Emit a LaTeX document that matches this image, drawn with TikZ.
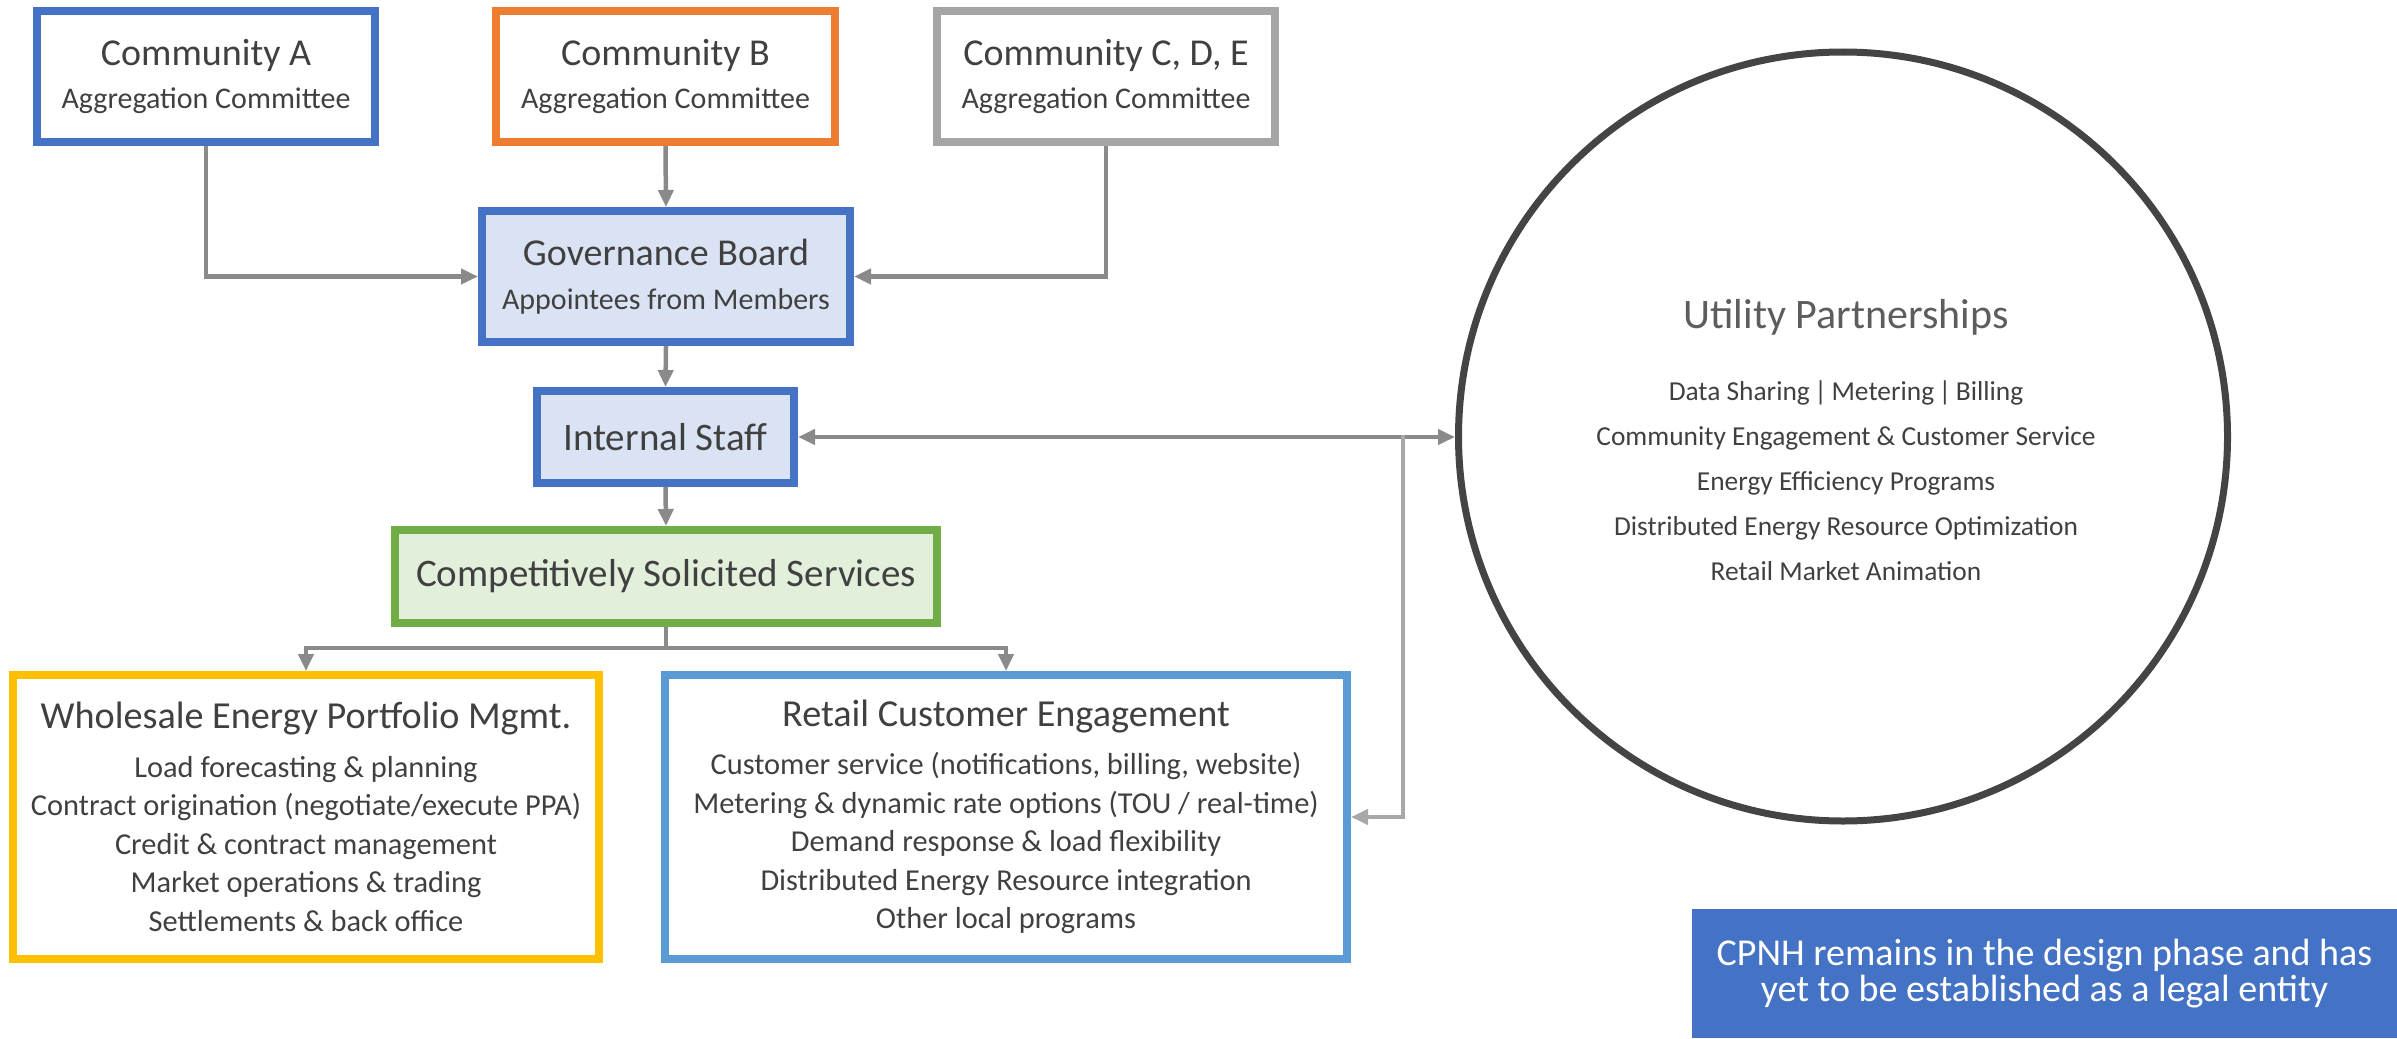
\documentclass[tikz,border=0pt]{standalone}
\usepackage{fontspec}
\setmainfont{Carlito}
\usetikzlibrary{arrows.meta,shapes.geometric}
\definecolor{txt}{HTML}{404040}
\definecolor{cblue}{HTML}{4472C4}
\definecolor{corange}{HTML}{ED7D31}
\definecolor{cgray}{HTML}{A5A5A5}
\definecolor{lblue}{HTML}{DAE3F3}
\definecolor{cgreen}{HTML}{70AD47}
\definecolor{lgreen}{HTML}{E2EFDA}
\definecolor{cyellow}{HTML}{FFC000}
\definecolor{cskyblue}{HTML}{5B9BD5}
\definecolor{conncol}{HTML}{8A8A8A}
\definecolor{conncolb}{HTML}{A8A8A8}
\definecolor{ringcol}{HTML}{444444}
\newcommand{\ttlA}[1]{{\fontsize{38}{44}\selectfont #1}}
\newcommand{\ttlB}[1]{{\fontsize{38.2}{44}\selectfont #1}}
\begin{document}
\begin{tikzpicture}[x=1pt,y=-1pt,
  box/.style={draw=#1, line width=8pt, rectangle, align=center, text=txt, inner sep=0pt},
  subf/.style={font=\fontsize{30}{34}\selectfont},
  listf/.style={font=\fontsize{30.4}{38.5}\selectfont},
  conn/.style={draw=conncol, line width=4.5pt, -{Triangle[length=17pt,width=15pt]}},
  connb/.style={draw=conncolb, line width=4pt, -{Triangle[length=17pt,width=15pt]}, shorten <=-2pt},
  plain/.style={draw=conncol, line width=4.5pt},
]
\useasboundingbox (0,0) rectangle (2397,1038);
% top boxes
\node[box=cblue, subf, minimum width=338pt, minimum height=131pt] (comA) at (206,76.5)
  {\ttlA{Community A}\\[9pt]Aggregation Committee};
\node[box=corange, subf, minimum width=339pt, minimum height=131pt] (comB) at (665.5,76.5)
  {\ttlA{Community B}\\[9pt]Aggregation Committee};
\node[box=cgray, subf, minimum width=338pt, minimum height=131pt] (comC) at (1106,76.5)
  {\ttlA{Community C, D, E}\\[9pt]Aggregation Committee};
% governance
\node[box=cblue, fill=lblue, subf, minimum width=368pt, minimum height=131pt] (gov) at (666,276.5)
  {\ttlA{Governance Board}\\[10pt]Appointees from Members};
\node[box=cblue, fill=lblue, minimum width=257pt, minimum height=92pt, font=\fontsize{39}{44}\selectfont] (is) at (665.5,437)
  {Internal Staff};
\node[box=cgreen, fill=lgreen, minimum width=542pt, minimum height=93pt, font=\fontsize{39}{44}\selectfont] (css) at (666,576.5)
  {Competitively Solicited Services};
% bottom boxes
\node[box=cyellow, listf, minimum width=586pt, minimum height=284pt] (wh) at (306,817)
  {\ttlB{Wholesale Energy Portfolio Mgmt.}\\[10pt]
   Load forecasting \& planning\\
   Contract origination (negotiate/execute PPA)\\
   Credit \& contract management\\
   Market operations \& trading\\
   Settlements \& back office};
\node[box=cskyblue, listf, minimum width=682pt, minimum height=284pt] (rt) at (1006,817)
  {\ttlB{Retail Customer Engagement}\\[10pt]
   Customer service (notifications, billing, website)\\
   Metering \& dynamic rate options (TOU / real-time)\\
   Demand response \& load flexibility\\
   Distributed Energy Resource integration\\
   Other local programs};
% utility circle
\node[circle, draw=ringcol, line width=7pt, minimum size=769pt, inner sep=0pt] (up) at (1843,436.5) {};
\node[text=txt!85, font=\fontsize{42}{48}\selectfont] (uptitle) at (1846,317) {Utility Partnerships};
\node[text=txt, align=center, font=\fontsize{27.4}{45}\selectfont, anchor=north] (uplist) at (1846,377)
  {Data Sharing\,|\,Metering\,|\,Billing\\
   Community Engagement \& Customer Service\\
   Energy Efficiency Programs\\
   Distributed Energy Resource Optimization\\
   Retail Market Animation};
% note box
\node[fill=cblue, text=white, align=center, inner sep=0pt, minimum width=705pt, minimum height=129pt,
  font=\fontsize{38}{36}\selectfont] (note) at (2044.5,973.5)
  {CPNH remains in the design phase and has\\yet to be established as a legal entity};
% connectors
\draw[conn] (comA.south) |- (gov.west);
\draw[conn] (comB.south) -- (gov.north);
\draw[conn] (comC.south) |- (gov.east);
\draw[conn] (gov.south) -- (is.north);
\draw[conn] (is.south) -- (css.north);
\coordinate (br) at (666,648);
\draw[plain] (css.south) -- (br);
\draw[conn] (br) -| (wh.north);
\draw[conn] (br) -| (rt.north);
\draw[conn, {Triangle[length=17pt,width=15pt]}-{Triangle[length=17pt,width=15pt]}] (is.east) -- (is.east -| up.west);
\coordinate (jn) at (1403,437);
\draw[connb] (jn) |- (rt.east);
\end{tikzpicture}
\end{document}
